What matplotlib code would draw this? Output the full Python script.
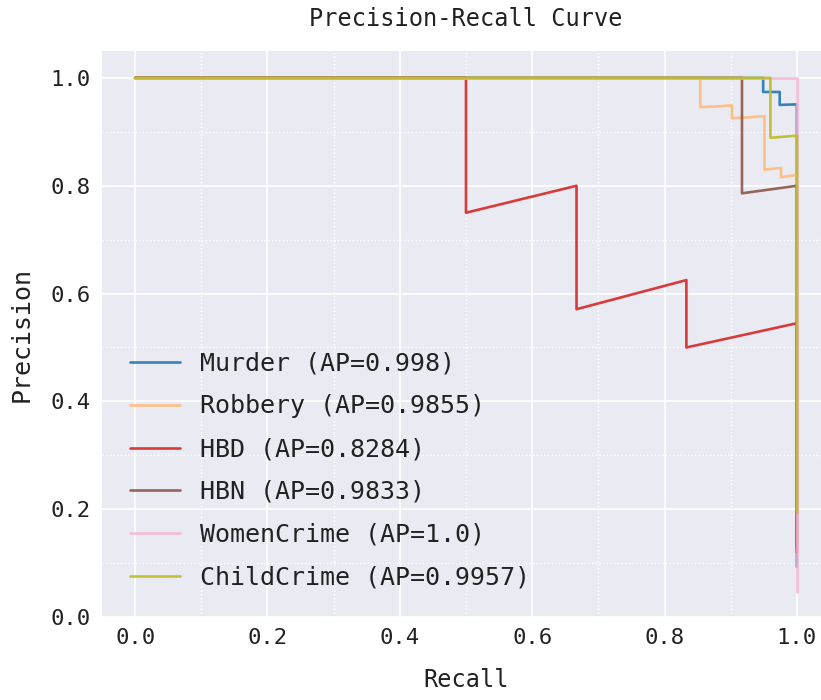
import numpy as np
import matplotlib
matplotlib.use("Agg")
import matplotlib.pyplot as plt
import seaborn as sns

# ---- data ----
labels = ["Murder (AP=0.998)", "Robbery (AP=0.9855)", "HBD (AP=0.8284)",
          "HBN (AP=0.9833)", "WomenCrime (AP=1.0)", "ChildCrime (AP=0.9957)"]

murder_recall = [0.0, 0.949, 0.949, 0.974, 0.974, 1.0, 1.0]
murder_precision = [1.0, 1.0, 0.974, 0.974, 0.950, 0.951, 0.093]

robbery_recall = [0.0, 0.854, 0.854, 0.878, 0.902, 0.902, 0.927, 0.951, 0.951, 0.976, 0.976, 1.0, 1.0]
robbery_precision = [1.0, 1.0, 0.946, 0.947, 0.949, 0.925, 0.927, 0.929, 0.830, 0.833, 0.816, 0.820, 0.15]

hbd_recall = [0.0, 0.5, 0.5, 0.667, 0.667, 0.833, 0.833, 1.0, 1.0]
hbd_precision = [1.0, 1.0, 0.75, 0.80, 0.571, 0.625, 0.50, 0.545, 0.12]

hbn_recall = [0.0, 0.917, 0.917, 1.0, 1.0]
hbn_precision = [1.0, 1.0, 0.786, 0.80, 0.13]

women_recall = [0.0, 1.0, 1.0]
women_precision = [1.0, 1.0, 0.046]

child_recall = [0.0, 0.96, 0.96, 1.0, 1.0]
child_precision = [1.0, 1.0, 0.889, 0.893, 0.195]

colors = ["#1f77b4", "#ffbb78", "#d62728", "#8c564b", "#f7b6d2", "#bcbd22"]

x_ticks = [0.0, 0.2, 0.4, 0.6, 0.8, 1.0]
y_ticks = [0.0, 0.2, 0.4, 0.6, 0.8, 1.0]

sns.set_theme(style="darkgrid")
plt.rcParams['font.family'] = ['DejaVu Sans Mono', 'DejaVu Sans']

fig = plt.figure(figsize=(8.21, 7.0), dpi=100)
ax = fig.add_axes([102 / 821, 83 / 700, 728 / 821, 566 / 700])

series = [(murder_recall, murder_precision), (robbery_recall, robbery_precision),
          (hbd_recall, hbd_precision), (hbn_recall, hbn_precision),
          (women_recall, women_precision), (child_recall, child_precision)]
for (r, p), c, lab in zip(series, colors, labels):
    ax.plot(r, p, color=c, lw=1.9, label=lab, alpha=0.9)

ax.set_xlim(-0.05, 1.05)
ax.set_ylim(0.0, 1.05)
ax.set_xticks(x_ticks)
ax.set_yticks(y_ticks)
ax.set_xticklabels([f"{v:.1f}" for v in x_ticks])
ax.set_yticklabels([f"{v:.1f}" for v in y_ticks])
ax.set_xticks(np.arange(0.1, 1.01, 0.2), minor=True)
ax.set_yticks(np.arange(0.1, 1.01, 0.2), minor=True)
ax.grid(which="major", color="white", lw=1.2)
ax.grid(which="minor", color="white", lw=1.0, ls=":")
ax.tick_params(axis="both", which="major", labelsize=16, length=0, pad=8, labelcolor="#222222")
ax.tick_params(axis="both", which="minor", length=0)
for s in ax.spines.values():
    s.set_visible(False)

ax.set_title("Precision-Recall Curve", fontsize=17, pad=18, color="#222222")
ax.set_xlabel("Recall", fontsize=17, labelpad=14, color="#222222")
ax.set_ylabel("Precision", fontsize=18, labelpad=12, color="#222222")

leg = ax.legend(loc="lower left", fontsize=18, frameon=False, handlelength=2.0,
                labelspacing=0.75, borderaxespad=0.7)
for t in leg.get_texts():
    t.set_color("#222222")

fig.savefig("out.png", dpi=100)
